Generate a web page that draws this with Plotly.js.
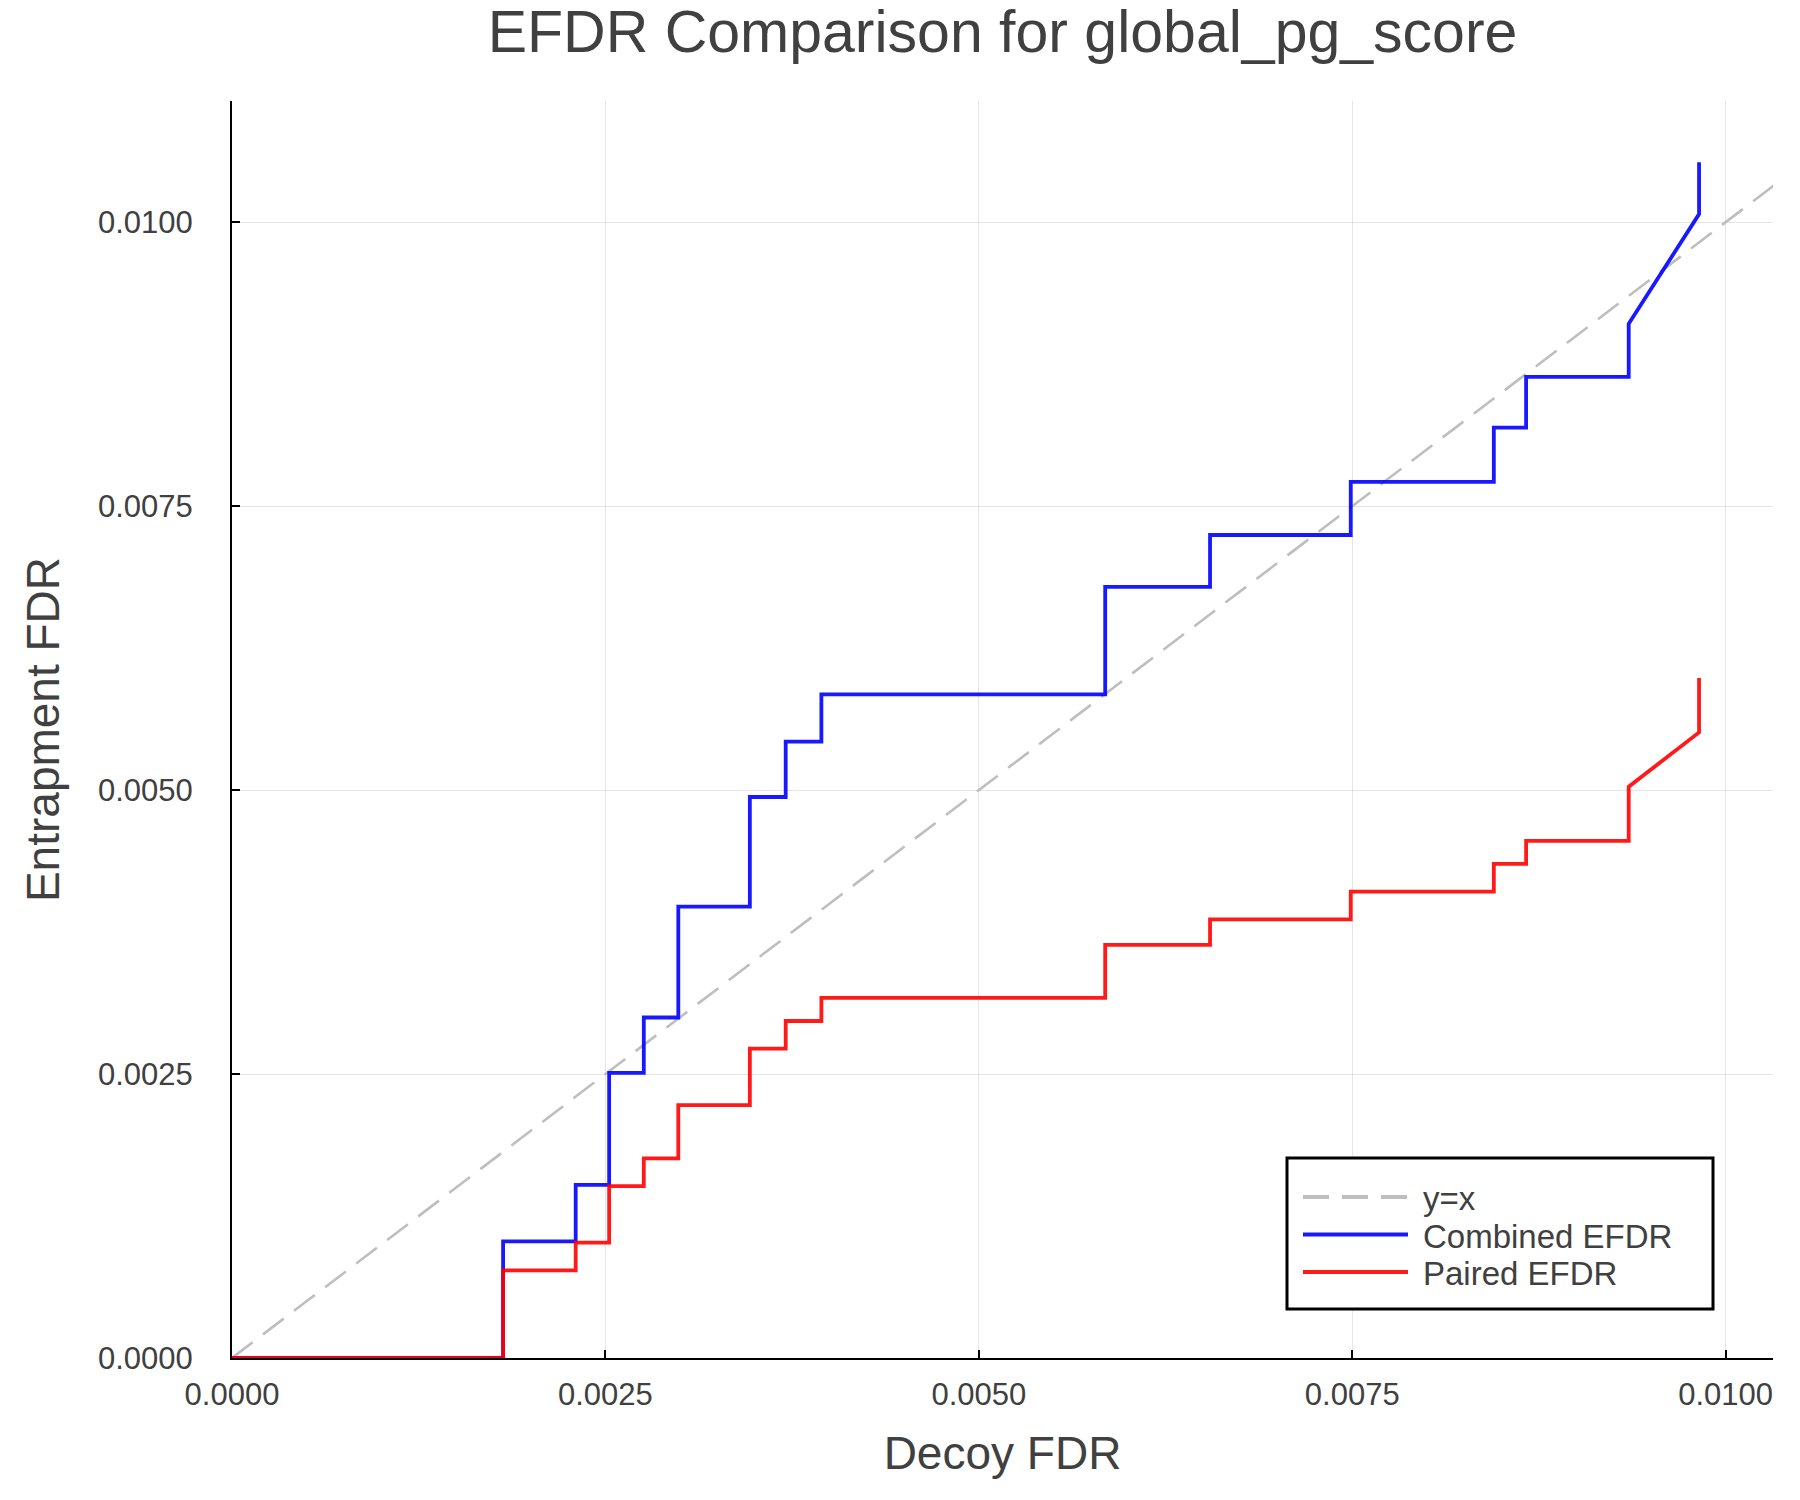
<!DOCTYPE html>
<html>
<head>
<meta charset="utf-8">
<script src="https://cdn.plot.ly/plotly-3.0.1.min.js"></script>
<style>
html,body{margin:0;padding:0;background:#fff;}
#chart{width:1800px;height:1500px;}
</style>
</head>
<body>
<div id="chart"></div>
<script>
// ---- data ----
var refLineX = [0, 0.0105];
var refLineY = [0, 0.0105];

var combinedX = [0, 0.001815, 0.001815, 0.002301, 0.002301, 0.002525, 0.002525, 0.002757, 0.002757,
  0.002988, 0.002988, 0.003467, 0.003467, 0.003707, 0.003707, 0.003946, 0.003946, 0.005846, 0.005846,
  0.006548, 0.006548, 0.007490, 0.007490, 0.008448, 0.008448, 0.008664, 0.008664, 0.009351, 0.009351,
  0.009822, 0.009822];
var combinedY = [0, 0, 0.001026, 0.001026, 0.001524, 0.001524, 0.002510, 0.002510, 0.002998,
  0.002998, 0.003974, 0.003974, 0.004939, 0.004939, 0.005427, 0.005427, 0.005843, 0.005843, 0.006789,
  0.006789, 0.007246, 0.007246, 0.007713, 0.007713, 0.008191, 0.008191, 0.008638, 0.008638, 0.009106,
  0.010071, 0.010528];

var pairedX = [0, 0.001815, 0.001815, 0.002301, 0.002301, 0.002525, 0.002525, 0.002757, 0.002757,
  0.002988, 0.002988, 0.003467, 0.003467, 0.003707, 0.003707, 0.003946, 0.003946, 0.005846, 0.005846,
  0.006548, 0.006548, 0.007490, 0.007490, 0.008448, 0.008448, 0.008664, 0.008664, 0.009351, 0.009351,
  0.009822, 0.009822];
var pairedY = [0, 0, 0.000772, 0.000772, 0.001016, 0.001016, 0.001514, 0.001514, 0.001758,
  0.001758, 0.002226, 0.002226, 0.002724, 0.002724, 0.002967, 0.002967, 0.003170, 0.003170, 0.003638,
  0.003638, 0.003862, 0.003862, 0.004106, 0.004106, 0.004350, 0.004350, 0.004553, 0.004553, 0.005030,
  0.005508, 0.005986];

var seriesNames = ["y=x", "Combined EFDR", "Paired EFDR"];
var titleText = "EFDR Comparison for global_pg_score";
var xTitleText = "Decoy FDR";
var yTitleText = "Entrapment FDR";

var FONT = "Liberation Sans, Helvetica, Arial, sans-serif";
var TXT = "#404040";

var lineStyles = [
  {color: "rgb(190,190,190)", width: 2.6, dash: "26px,13px"},
  {color: "rgba(0,0,255,0.9)", width: 3.8},
  {color: "rgba(255,0,0,0.9)", width: 3.8}
];

var traces = [
  {x: refLineX, y: refLineY, name: seriesNames[0], mode: "lines", type: "scatter", line: lineStyles[0]},
  {x: combinedX, y: combinedY, name: seriesNames[1], mode: "lines", type: "scatter", line: lineStyles[1]},
  {x: pairedX, y: pairedY, name: seriesNames[2], mode: "lines", type: "scatter", line: lineStyles[2]}
];

function axisBase() {
  return {
    showline: true, linecolor: "#000", linewidth: 2,
    ticks: "inside", ticklen: 8, tickwidth: 2, tickcolor: "#000",
    showgrid: true, gridcolor: "rgba(0,0,0,0.1)", gridwidth: 1,
    zeroline: false, mirror: false,
    tickformat: ".4f", tick0: 0, dtick: 0.0025,
    tickfont: {family: FONT, size: 31, color: TXT}
  };
}

var xa = axisBase();
xa.range = [0, 0.010317];
xa.ticklabelstandoff = 8;
xa.title = {text: xTitleText, font: {family: FONT, size: 46, color: TXT}, standoff: 26};

var ya = axisBase();
ya.range = [0, 0.011067];
ya.ticklabelstandoff = 31;
ya.title = {text: yTitleText, font: {family: FONT, size: 46, color: TXT}, standoff: 24};

// ---- legend box drawn in paper coordinates (plot area: 232..1773 x 101.5..1358 px) ----
var PL = 232, PW = 1541, PB = 1358, PH = 1256.5;
function px(v) { return (v - PL) / PW; }
function py(v) { return (PB - v) / PH; }
var legBox = {x0: 1287, x1: 1713, y0: 1158, y1: 1309};
var legLine = {x0: 1303, x1: 1408};
var legTextX = 1421;
var legRows = [1197, 1234.5, 1272];

var shapes = [{type: "rect", xref: "paper", yref: "paper",
  x0: px(legBox.x0), x1: px(legBox.x1), y0: py(legBox.y1), y1: py(legBox.y0),
  line: {color: "#000", width: 3}, fillcolor: "#fff", layer: "above"}];
var annotations = [];
for (var i = 0; i < seriesNames.length; i++) {
  shapes.push({type: "line", xref: "paper", yref: "paper",
    x0: px(legLine.x0), x1: px(legLine.x1), y0: py(legRows[i]), y1: py(legRows[i]),
    line: {color: lineStyles[i].color, width: 4, dash: lineStyles[i].dash || "solid"}, layer: "above"});
  annotations.push({xref: "paper", yref: "paper", x: px(legTextX), y: py(legRows[i] + 2),
    xanchor: "left", yanchor: "middle", showarrow: false, text: seriesNames[i],
    font: {family: FONT, size: 33, color: TXT}});
}

var layout = {
  width: 1800, height: 1500,
  margin: {l: 232, r: 27, t: 101, b: 142, pad: 0},
  paper_bgcolor: "#fff", plot_bgcolor: "#fff",
  title: {text: titleText, font: {family: FONT, size: 59, color: TXT},
          x: 0.5, xref: "paper", xanchor: "center", y: 0.979, yref: "container", yanchor: "middle"},
  xaxis: xa, yaxis: ya,
  showlegend: false,
  shapes: shapes,
  annotations: annotations,
  hovermode: false
};

Plotly.newPlot("chart", traces, layout, {displayModeBar: false, staticPlot: true});
</script>
</body>
</html>
